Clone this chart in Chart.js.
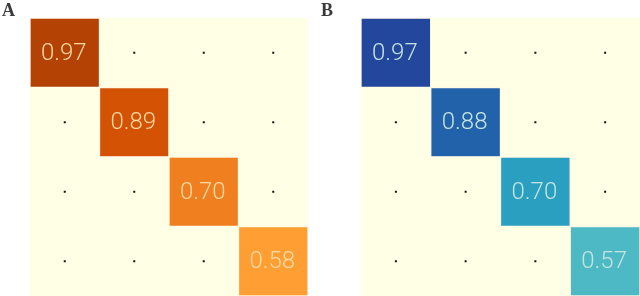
<!DOCTYPE html>
<html lang="en">
<head>
    <meta charset="UTF-8">
    <title>Heatmaps A / B</title>
    <script src="https://cdn.jsdelivr.net/npm/chart.js"></script>
    <style>
        body { margin: 0; background: #fff; width: 640px; height: 296px; position: relative; overflow: hidden; }
        .panel { position: absolute; top: 0; width: 320px; height: 296px; }
        .tag { position: absolute; top: 0px; font-family: "Liberation Serif", serif; font-weight: bold; font-size: 18px; color: #3a3a3a; }
    </style>
</head>
<body>
    <div class="panel" style="left:0"><canvas id="chartA"></canvas></div>
    <div class="panel" style="left:320px"><canvas id="chartB"></canvas></div>
    <div class="tag" style="left:2px">A</div>
    <div class="tag" style="left:321px">B</div>

    <script>
        const columns = ['c1', 'c2', 'c3', 'c4'];
        const rows = [0, 1, 2, 3];
        // diagonal values, off-diagonal cells are empty (drawn as dots)
        const valuesA = [0.97, 0.89, 0.70, 0.58];
        const valuesB = [0.97, 0.88, 0.70, 0.57];
        const colorsA = ['#b34204', '#d35203', '#f0801f', '#fe9e33'];
        const colorsB = ['#23479c', '#2162aa', '#2a9fc0', '#4db9c4'];
        const emptyColor = '#ffffe5';

        function buildCells(values) {
            const cells = [];
            rows.forEach(r => {
                columns.forEach((c, ci) => {
                    cells.push({ x: c, y: [r, r + 1], v: ci === r ? values[r] : null, k: r });
                });
            });
            return cells;
        }

        const cellText = {
            id: 'cellText',
            afterDatasetsDraw(chart, args, opts) {
                const ctx = chart.ctx;
                const meta = chart.getDatasetMeta(0);
                ctx.save();
                ctx.textAlign = 'center';
                ctx.textBaseline = 'middle';
                meta.data.forEach((bar, i) => {
                    const cell = chart.data.datasets[0].data[i];
                    const p = bar.getProps(['x', 'y', 'base']);
                    const cy = (p.y + p.base) / 2;
                    if (cell.v === null) {
                        ctx.fillStyle = '#111';
                        ctx.fillRect(p.x - 1, cy - 1, 2, 2);
                    } else {
                        ctx.fillStyle = opts.color;
                        ctx.font = '300 24px Roboto';
                        ctx.fillText(cell.v.toFixed(2), p.x - 1, cy + 1);
                    }
                });
                ctx.restore();
            }
        };

        function renderHeatmap(id, values, colors, textColor, padLeft, padRight) {
            new Chart(document.getElementById(id), {
                type: 'bar',
                data: {
                    labels: columns,
                    datasets: [{
                        data: buildCells(values),
                        backgroundColor: ctx => ctx.raw.v === null ? emptyColor : colors[ctx.raw.k],
                        borderColor: ctx => ctx.raw.v === null ? emptyColor : 'rgba(255,240,215,0.7)',
                        borderWidth: ctx => ctx.raw.v === null ? 0 : 1,
                        borderSkipped: false,
                        categoryPercentage: 1,
                        barPercentage: 1
                    }]
                },
                options: {
                    responsive: true,
                    maintainAspectRatio: false,
                    animation: false,
                    layout: { padding: { left: padLeft, right: padRight, top: 18, bottom: 0 } },
                    plugins: {
                        legend: { display: false },
                        tooltip: { enabled: false },
                        cellText: { color: textColor }
                    },
                    scales: {
                        x: { display: false },
                        y: { display: false, min: 0, max: 4, reverse: true }
                    }
                },
                plugins: [cellText]
            });
        }

        renderHeatmap('chartA', valuesA, colorsA, '#fdd9a4', 30, 12);
        renderHeatmap('chartB', valuesB, colorsB, '#c4e4df', 41, 0);
    </script>
</body>
</html>
